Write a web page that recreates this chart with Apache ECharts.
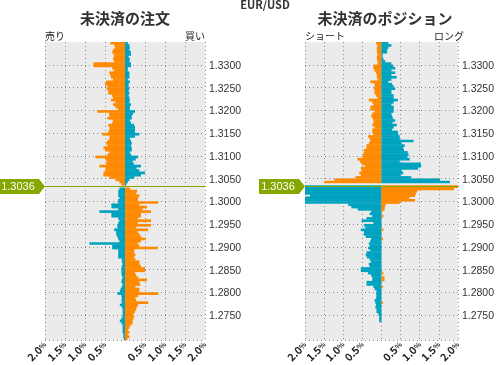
<!DOCTYPE html>
<html><head><meta charset="utf-8">
<script src="https://cdn.jsdelivr.net/npm/echarts@6/dist/echarts.min.js"></script>
<style>html,body{margin:0;padding:0;background:#fff}#c{width:497px;height:365px}</style>
</head><body><div id="c"></div>
<script>
// ---- data ----
const pairName = 'EUR/USD';
const topLevel = 1.3350;      // price of first (top) row
const levelStep = 0.0005;     // price step between rows
const rowCount = 131;
const currentPrice = 1.3036;
const priceTickLabels = ['1.3300','1.3250','1.3200','1.3150','1.3100','1.3050','1.3000','1.2950','1.2900','1.2850','1.2800','1.2750'];
const percentTicks = [-2, -1.5, -1, -0.5, 0, 0.5, 1, 1.5, 2];

// 未決済の注文 : left side (%), right side (%) per row, top to bottom
const ordersLeft = [
0.37,0.27,0.25,0.30,0.32,0.28,0.28,0.30,0.27,0.79,
0.79,0.32,0.28,0.39,0.37,0.35,0.30,0.47,0.50,0.44,
0.46,0.42,0.42,0.32,0.30,0.35,0.24,0.30,0.24,0.18,
0.69,0.40,0.39,0.44,0.30,0.32,0.42,0.39,0.39,0.42,
0.57,0.39,0.39,0.44,0.47,0.44,0.54,0.50,0.39,0.44,
0.74,0.49,0.46,0.47,0.64,0.49,0.49,0.54,0.54,0.39,
0.24,0.14,0.09,0,
0.14,0.17,0.17,0.17,0.14,0.17,0.17,0.34,0.34,0.17,
0.64,0.34,0.34,0.17,0.14,0.17,0.19,0.19,0.27,0.22,
0.22,0.19,0.17,0.14,0.89,0.32,0.32,0.17,0.17,0.17,
0.17,0.08,0.08,0.06,0.08,0.09,0.09,0.09,0.08,0.06,
0.08,0.09,0.06,0.08,0.11,0.13,0.19,0.09,0.08,0.09,
0.08,0.13,0.08,0.06,0.06,0.06,0.06,0.09,0.13,0.09,
0.06,0.06,0.06,0.06,0.04,0.04,0.03];
const ordersRight = [
0.07,0.11,0.12,0.11,0.15,0.15,0.09,0.12,0.11,0.15,
0.15,0.07,0.07,0.11,0.11,0.11,0.07,0.12,0.09,0.09,
0.11,0.09,0.11,0.09,0.11,0.12,0.11,0.15,0.12,0.12,
0.25,0.20,0.17,0.17,0.12,0.15,0.23,0.25,0.25,0.25,
0.36,0.25,0.12,0.15,0.17,0.15,0.17,0.17,0.12,0.15,
0.33,0.27,0.19,0.22,0.40,0.29,0.36,0.50,0.40,0.23,
0.11,0.07,0.03,0,
0.13,0.30,0.28,0.36,0.33,0.32,0.83,0.36,0.55,0.44,
0.65,0.40,0.40,0.33,0.65,0.32,0.65,0.28,0.58,0.32,
0.36,0.40,0.52,0.40,0.32,0.36,0.82,0.23,0.23,0.26,
0.23,0.26,0.36,0.36,0.40,0.50,0.50,0.25,0.28,0.33,
0.55,0.36,0.38,0.26,0.36,0.36,0.83,0.33,0.26,0.28,
0.58,0.33,0.29,0.28,0.25,0.21,0.23,0.21,0.19,0.19,
0.14,0.11,0.08,0.11,0.08,0.11,0.06];

// 未決済のポジション : left side (%), right side (%) per row, top to bottom
const positionsLeft = [
0.14,0.10,0.12,0.12,0.12,0.10,0.12,0.12,0.10,0.10,
0.21,0.21,0.18,0.14,0.12,0.12,0.10,0.29,0.18,0.18,
0.20,0.18,0.18,0.14,0.10,0.33,0.24,0.21,0.29,0.29,
0.18,0.24,0.27,0.23,0.21,0.21,0.24,0.18,0.24,0.24,
0.21,0.35,0.31,0.29,0.33,0.39,0.39,0.46,0.46,0.48,
0.49,0.63,0.56,0.52,0.43,0.54,0.52,0.58,0.54,0.68,
1.23,1.49,0,
2.3,2.3,2.3,2.1,1.87,2.3,2.3,2.3,0.87,0.79,
0.62,0.27,0.31,0.24,0.39,0.52,0.21,0.46,0.42,0.54,
0.46,0.46,0.41,0.27,0.29,0.33,0.31,0.35,0.29,0.39,
0.41,0.38,0.31,0.27,0.33,0.31,0.54,0.54,0.35,0.27,
0.24,0.24,0.39,0.39,0.21,0.18,0.13,0.14,0.13,0.14,
0.18,0.16,0.14,0.16,0.13,0.13,0.08,0.06,0.06,0.06,
0,0,0,0,0,0,0,0];
const positionsRight = [
0.18,0.26,0.18,0.15,0.15,0.03,0.03,0.05,0.10,0.26,
0.30,0.36,0.26,0.36,0.26,0.40,0.26,0.18,0.28,0.32,
0.36,0.26,0.26,0.32,0.32,0.43,0.32,0.26,0.32,0.32,
0.32,0.26,0.28,0.30,0.36,0.29,0.40,0.32,0.28,0.43,
0.44,0.48,0.48,0.84,0.53,0.61,0.57,0.59,0.69,0.71,
0.68,0.74,0.48,1.03,1.04,0.96,0.53,0.57,0.51,0.78,
1.53,1.79,0,
2.3,1.90,0.94,0.90,0.88,0.73,0.88,0.48,0.11,0.09,
0.08,0.03,0,0.05,0,0,0,0,0,0.05,
0,0,0,0.04,0,0,0,0,0,0,
0,0,0,0,0,0,0,0,0.05,0,
0.08,0.08,0,0,0.04,0,0,0,0,0,
0,0.04,0,0,0,0,0,0,0,0,
0,0,0,0,0,0,0,0];

// ---- rendering ----
const ORANGE = '#FF8A00', BLUE = '#00A3BF', GREEN = '#84A800';
const levels = [];
for (let i = 0; i < rowCount; i++) levels.push((topLevel - levelStep * i).toFixed(4));
const priceRow = Math.round((topLevel - currentPrice) / levelStep);
const font = '"Noto Sans CJK JP", "Liberation Sans", sans-serif';

const chart = echarts.init(document.getElementById('c'), null, {renderer: 'canvas'});

const grids = [
  {left: 45, top: 42, width: 160, height: 301, show: true, backgroundColor: '#EBEBEB', borderWidth: 0},
  {left: 305, top: 42, width: 160, height: 301, show: true, backgroundColor: '#EBEBEB', borderWidth: 0}
];
const dotted = {show: true, lineStyle: {color: '#8a8a8a', type: [1, 3], width: 1}};

function xAxisFor(g) {
  return {
    type: 'value', gridIndex: g, min: percentTicks[0], max: percentTicks[percentTicks.length - 1], interval: 0.5,
    axisLine: {show: false}, axisTick: {show: false}, splitLine: dotted,
    axisLabel: {
      rotate: 45, margin: 3, color: '#222', fontSize: 10, fontWeight: 'bold', fontFamily: font,
      formatter: v => v === 0 ? '' : '{n|' + Math.abs(v).toFixed(1) + '}{p|%}',
      rich: {n: {fontSize: 10.5, fontWeight: 'bold', color: '#222', fontFamily: font}, p: {fontSize: 7, fontWeight: 'bold', color: '#222', fontFamily: font}}
    }
  };
}
function yAxisFor(g) {
  const show = (idx, val) => priceTickLabels.indexOf(val) >= 0;
  return {
    type: 'category', gridIndex: g, data: levels, inverse: true, position: 'right', boundaryGap: true,
    axisLine: {show: false}, axisTick: {show: false},
    axisLabel: {interval: show, margin: 4, color: '#333', fontSize: 10.5, fontFamily: '"Liberation Sans", Arial, sans-serif', padding: [0, 0, 2, 0]},
    splitLine: Object.assign({interval: show}, dotted)
  };
}
function seriesFor(g, leftVals, rightVals) {
  const leftData = leftVals.map((v, i) => ({value: -v, itemStyle: {color: i < priceRow ? ORANGE : BLUE}}));
  const rightData = rightVals.map((v, i) => ({value: v, itemStyle: {color: i < priceRow ? BLUE : ORANGE}}));
  const common = {type: 'bar', xAxisIndex: g, yAxisIndex: g, barWidth: '118%', barGap: '-100%', barCategoryGap: 0, silent: true, animation: false, clip: true};
  return [
    Object.assign({data: leftData}, common),
    Object.assign({
      data: rightData,
      markLine: {
        silent: true, symbol: 'none', animation: false,
        lineStyle: {color: GREEN, width: 1, type: 'solid'}, label: {show: false},
        data: [{yAxis: levels[priceRow]}], z: 10
      },
      markPoint: {
        silent: true, animation: false,
        symbol: 'path://M0 0 L40 0 L46 7.5 L40 15 L0 15 Z', symbolSize: [46, 15], symbolOffset: [-23, 0],
        itemStyle: {color: GREEN},
        label: {show: true, color: '#fff', fontSize: 11, fontFamily: '"Liberation Sans", Arial, sans-serif', offset: [-4, 0], formatter: currentPrice.toFixed(4)},
        data: [{coord: [percentTicks[0], levels[priceRow]], value: currentPrice}]
      }
    }, common)
  ];
}

const textEl = (text, x, y, size, align, weight, color) => ({
  type: 'text', x: x, y: y, silent: true,
  style: {text: text, font: (weight || 'normal') + ' ' + size + 'px ' + font, fill: color || '#222', align: align, verticalAlign: 'middle'}
});

chart.setOption({
  animation: false,
  grid: grids,
  xAxis: [xAxisFor(0), xAxisFor(1)],
  yAxis: [yAxisFor(0), yAxisFor(1)],
  series: [].concat(seriesFor(0, ordersLeft, ordersRight), seriesFor(1, positionsLeft, positionsRight)),
  graphic: [
    textEl(pairName, 265, 5, 11, 'center', 'bold', '#333'),
    textEl('未決済の注文', 125, 18, 15, 'center', 'bold', '#333'),
    textEl('未決済のポジション', 385, 18, 15, 'center', 'bold', '#333'),
    textEl('売り', 45, 36, 10, 'left'),
    textEl('買い', 205, 36, 10, 'right'),
    textEl('ショート', 305, 36, 10, 'left'),
    textEl('ロング', 464, 36, 10, 'right')
  ]
});
</script></body></html>
